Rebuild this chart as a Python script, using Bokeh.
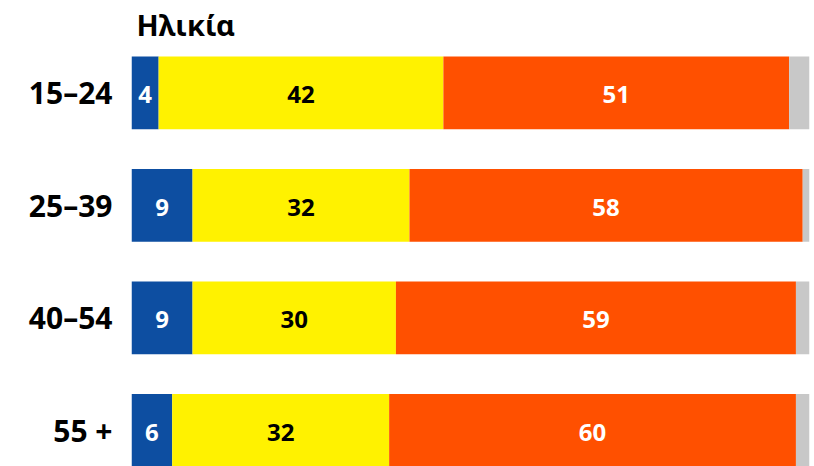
from bokeh.plotting import figure
from bokeh.models import ColumnDataSource, Range1d, FixedTicker, Label
from bokeh.core.properties import value
from bokeh.embed import file_html
from bokeh.resources import INLINE

title_text = "Ηλικία"
categories = ["15–24", "25–39", "40–54", "55 +"]
blue = [4, 9, 9, 6]
yellow = [42, 32, 30, 32]
orange = [51, 58, 59, 60]
grey = [3, 1, 2, 2]

series = ["blue", "yellow", "orange", "grey"]
colors = ["#0d4ea1", "#fff200", "#ff5000", "#c8c8c8"]
text_colors = ["white", "black", "white", None]

ypos = list(range(len(categories)))
data = dict(y=ypos, blue=blue, yellow=yellow, orange=orange, grey=grey)
src = ColumnDataSource(data)

FONT = "Noto Sans"

p = figure(width=814, height=466, output_backend="svg", toolbar_location=None,
           x_range=Range1d(0, 100), y_range=Range1d(3.321, -0.821),
           min_border_left=131, min_border_right=5, min_border_top=0, min_border_bottom=0)
p.outline_line_color = None
p.grid.visible = False
p.xaxis.visible = False

p.hbar_stack(series, y="y", height=0.646, color=colors, line_color=None, source=src)

# value labels
lx, ly, lt, lc = [], [], [], []
for i in range(len(categories)):
    left = 0
    for s, tc in zip(series, text_colors):
        v = data[s][i]
        if tc is not None:
            lx.append(left + v / 2)
            ly.append(ypos[i])
            lt.append(str(v))
            lc.append(tc)
        left += v
p.text(x=lx, y=ly, text=lt, text_color=lc, text_align="center", text_baseline="middle",
       text_font=value(FONT), text_font_style="bold", text_font_size="24px", y_offset=2)

yax = p.yaxis[0]
yax.ticker = FixedTicker(ticks=ypos)
yax.major_label_overrides = {i: c for i, c in zip(ypos, categories)}
yax.axis_line_color = None
yax.major_tick_line_color = None
yax.minor_tick_line_color = None
yax.major_label_standoff = 13
yax.major_label_text_font = FONT
yax.major_label_text_font_style = "bold"
yax.major_label_text_font_size = "30px"
yax.major_label_text_color = "black"

p.add_layout(Label(x=0, y=-0.61, x_offset=5, text=title_text, text_font=FONT,
                   text_font_style="bold", text_font_size="29px", text_color="black",
                   text_baseline="alphabetic"))

open("out.html", "w").write(file_html(p, INLINE))
